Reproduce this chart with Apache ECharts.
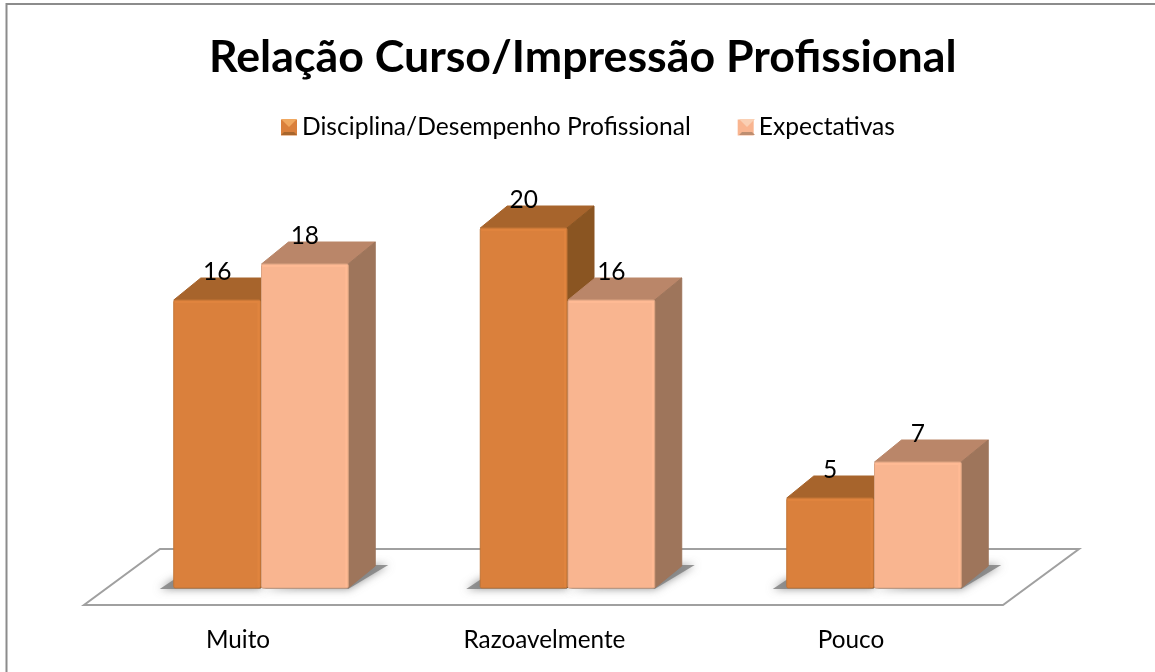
<!DOCTYPE html>
<html>
<head>
<meta charset="utf-8">
<style>html,body{margin:0;padding:0;background:#fff}#c{width:1155px;height:672px}</style>
<script src="https://cdn.jsdelivr.net/npm/echarts@6/dist/echarts.min.js"></script>
</head>
<body>
<div id="c"></div>
<script>
const titleText = 'Relação Curso/Impressão Profissional';
const categories = ['Muito', 'Razoavelmente', 'Pouco'];
const seriesNames = ['Disciplina/Desempenho Profissional', 'Expectativas'];
const disciplina = [16, 20, 5];
const expectativas = [18, 16, 7];

const FONT = 'Lato, Carlito, sans-serif';
const palette = [
  {front:'#DA803C', edge:'#E0843E', rim:'#C27435', top:'#A7642C', side:'#8A5522', iconTop:'#F0A860', iconBottom:'#A8662C'},
  {front:'#F9B590', edge:'#FFBA94', rim:'#DDA482', top:'#BA8669', side:'#9E755B', iconTop:'#FAD0B4', iconBottom:'#BE8E70'}
];
const DX = 27, DY = -22, BAR_RATIO = 0.283;

function makeRender(si){
  const c = palette[si];
  return function(params, api){
    const cat = api.value(0), val = api.value(1);
    const base = api.coord([cat, 0]);
    const top = api.coord([cat, val]);
    const w = api.size([1,0])[0] * BAR_RATIO;
    const x0 = si === 0 ? base[0] - w - 0.5 : base[0] + 0.5;
    const x1 = x0 + w, y0 = top[1], y1 = base[1];
    const shadowPts = si === 0
      ? [[x0-14,y1+1],[x1,y1+1],[x1,y1-9],[x0+1,y1-9]]
      : [[x0,y1+1],[x1,y1+1],[x1+DX+13,y1-23],[x1+DX,y1-23]];
    const children = [];
    // ground shadow
    children.push({type:'polygon', silent:true, shape:{points:shadowPts},
      style:{fill:'rgba(125,125,125,0.8)', shadowBlur:8, shadowColor:'rgba(100,100,100,0.85)'}, z2:1});
    // top face
    children.push({type:'polygon', shape:{points:[[x0,y0],[x1,y0],[x1+DX,y0+DY],[x0+DX,y0+DY]]},
      style:{fill:c.top, stroke:c.top, lineWidth:1, lineJoin:'round'}, z2:2});
    // side face
    children.push({type:'polygon', shape:{points:[[x1,y0],[x1+DX,y0+DY],[x1+DX,y1+DY],[x1,y1]]},
      style:{fill:c.side, stroke:c.side, lineWidth:1, lineJoin:'round'}, z2:2});
    // front face
    children.push({type:'rect', shape:{x:x0,y:y0,width:w,height:y1-y0,r:1.5},
      style:{fill:c.front, stroke:c.rim, lineWidth:1}, z2:3});
    children.push({type:'rect', shape:{x:x0+1,y:y0+1,width:w-2,height:2},
      style:{fill:c.edge}, z2:4});
    children.push({type:'rect', shape:{x:x1-3,y:y0+1,width:2,height:y1-y0-2},
      style:{fill:c.edge}, z2:4});
    // value label
    children.push({type:'text', style:{text:String(val), x:(x0+x1)/2, y:y0-28,
      align:'center', verticalAlign:'middle', font:'24.5px '+FONT, fill:'#000'}, z2:10});
    return {type:'group', children};
  };
}

function iconBevel(x, y, s, c){
  return [
    {type:'polygon', shape:{points:[[x,y],[x+s,y],[x+s/2,y+s/2]]}, style:{fill:c.iconTop}, silent:true, z:10},
    {type:'polygon', shape:{points:[[x,y+s],[x+s,y+s],[x+s-3,y+s-3],[x+3,y+s-3]]}, style:{fill:c.iconBottom}, silent:true, z:10}
  ];
}

const chart = echarts.init(document.getElementById('c'), null, {renderer:'canvas'});
chart.setOption({
  animation:false,
  backgroundColor:'#fff',
  title:{text:titleText, top:35, left:209, padding:0,
    textStyle:{fontFamily:FONT, fontSize:44.7, fontWeight:'bold', color:'#000'}},
  legend:{top:110, left:276, itemWidth:16, itemHeight:16, itemGap:47,
    icon:'rect',
    textStyle:{fontFamily:FONT, fontSize:24.6, color:'#000'},
    data:seriesNames},
  grid:{left:107.75, width:919.5, top:228, height:360},
  xAxis:{type:'category', data:categories, axisLine:{show:false}, axisTick:{show:false},
    axisLabel:{fontFamily:FONT, fontSize:24.3, color:'#000', margin:40, padding:[0,46,0,0]}},
  yAxis:{type:'value', min:0, max:20, show:false},
  graphic:[
    {type:'polyline', shape:{points:[[6.5,672],[6.5,4],[1155,4]]}, style:{fill:'none',stroke:'#8c8c8c',lineWidth:2}, silent:true, z:0},
    {type:'polygon', shape:{points:[[84,605],[1003,605],[1079,549],[160,549]]},
      style:{fill:'#fff',stroke:'#a0a0a0',lineWidth:2}, silent:true, z:0},
    ...iconBevel(281, 119, 16, palette[0]),
    ...iconBevel(739, 119, 16, palette[1])
  ],
  series:[
    {type:'custom', name:seriesNames[0], renderItem:makeRender(0), z:3,
      itemStyle:{color:palette[0].front}, encode:{x:0,y:1},
      data:disciplina.map((v,i)=>[i,v])},
    {type:'custom', name:seriesNames[1], renderItem:makeRender(1), z:4,
      itemStyle:{color:palette[1].front}, encode:{x:0,y:1},
      data:expectativas.map((v,i)=>[i,v])}
  ]
});
</script>
</body>
</html>
